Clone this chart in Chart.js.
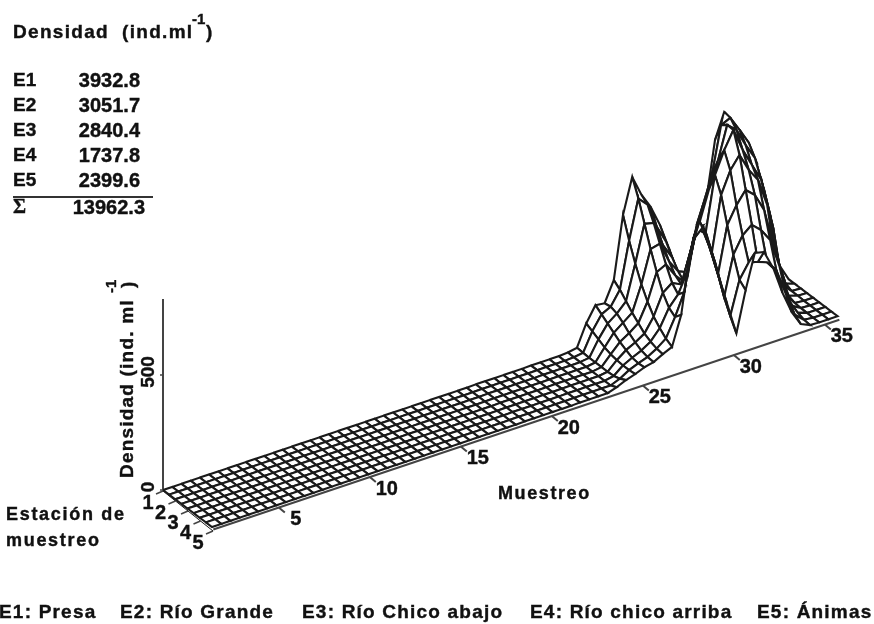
<!DOCTYPE html>
<html lang="es">
<head>
<meta charset="utf-8">
<style>
  html, body { margin: 0; background: #fff; }
  canvas { display: block; filter: blur(0.5px); }
</style>
<script src="https://cdn.jsdelivr.net/npm/chart.js@4/dist/chart.umd.min.js"></script>
</head>
<body>
<canvas id="superficie" width="874" height="624"></canvas>
<script>
const MUESTREOS = [
  1, 1.5, 2, 2.5, 3, 3.5, 4, 4.5, 5, 5.5, 6, 6.5, 7, 7.5, 8, 8.5, 9, 9.5, 10, 10.5, 11, 11.5, 12,
  12.5, 13, 13.5, 14, 14.5, 15, 15.5, 16, 16.5, 17, 17.5, 18, 18.5, 19, 19.5, 20, 20.5, 21, 21.5,
  22, 22.5, 23, 23.5, 24, 24.5, 25, 25.5, 26, 26.5, 27, 27.5, 28, 28.5, 29, 29.5, 30, 30.5, 31,
  31.5, 32, 32.5, 33, 33.5, 34, 34.5, 35,
];
const ESTACIONES = [1, 1.5, 2, 2.5, 3, 3.5, 4, 4.5, 5];

// muestreos 1 a 22.5: la superficie casi no se despega del plano
const TRAMO_PLANO = [
  0, 0, 0, 0, 0, 0, 0, 0, 0, 0, 0, 0, 0, 0, 0, 0, 0, 0, 0, 0, 0, 0,
  0, 0, 0, 0, 0, 0, 0, 0, 0, 0, 0, 0, 1, 1, 1, 1, 1, 1, 2, 2, 2, 2,
];
const DENSIDAD_E10 = [...TRAMO_PLANO, 5, 12, 104, 170, 165, 252, 522, 674, 583, 517, 426, 309, 187, 157, 370, 452, 713, 822, 739, 687, 595, 480, 275, 74, 0];
const DENSIDAD_E15 = [...TRAMO_PLANO, 4, 10, 90, 150, 170, 230, 430, 600, 560, 450, 373, 235, 165, 346, 474, 594, 798, 816, 750, 681, 541, 383, 152, 15, 0];
const DENSIDAD_E20 = [...TRAMO_PLANO, 3, 8, 75, 130, 160, 200, 350, 510, 500, 390, 324, 191, 322, 436, 563, 678, 819, 783, 704, 635, 483, 303, 42, 2, 0];
const DENSIDAD_E25 = [...TRAMO_PLANO, 2, 8, 60, 110, 140, 170, 280, 420, 430, 340, 283, 266, 441, 413, 648, 742, 817, 717, 639, 561, 393, 139, 15, 2, 0];
const DENSIDAD_E30 = [...TRAMO_PLANO, 2, 8, 50, 90, 115, 145, 225, 340, 360, 300, 255, 435, 474, 346, 581, 674, 728, 650, 593, 472, 261, 52, 4, 0, 0];
const DENSIDAD_E35 = [...TRAMO_PLANO, 2, 8, 45, 75, 95, 120, 180, 270, 300, 280, 410, 524, 411, 270, 470, 543, 596, 561, 483, 317, 143, 25, 2, 0, 0];
const DENSIDAD_E40 = [...TRAMO_PLANO, 2, 10, 42, 62, 80, 105, 150, 225, 270, 355, 530, 493, 357, 191, 361, 432, 465, 429, 372, 246, 84, 15, 1, 0, 0];
const DENSIDAD_E45 = [...TRAMO_PLANO, 2, 18, 42, 58, 72, 95, 125, 205, 300, 516, 555, 426, 278, 129, 272, 335, 324, 309, 261, 148, 40, 5, 0, 0, 0];
const DENSIDAD_E50 = [...TRAMO_PLANO, 15, 32, 45, 61, 70, 91, 109, 235, 496, 617, 500, 359, 215, 74, 248, 396, 387, 304, 183, 86, 20, 2, 0, 0, 0];
const DENSIDADES = [
  DENSIDAD_E10, DENSIDAD_E15, DENSIDAD_E20, DENSIDAD_E25, DENSIDAD_E30,
  DENSIDAD_E35, DENSIDAD_E40, DENSIDAD_E45, DENSIDAD_E50,
];

const TICKS_MUESTREO = [5, 10, 15, 20, 25, 30, 35];
const TICKS_ESTACION = [1, 2, 3, 4, 5];
const TICKS_DENSIDAD = [0, 500];
const EJE_DENSIDAD_MAX = 830;

const TABLA_ESTACIONES = ['E1', 'E2', 'E3', 'E4', 'E5'];
const TABLA_DENSIDADES = ['3932.8', '3051.7', '2840.4', '1737.8', '2399.6'];
const TABLA_TOTAL = '13962.3';
const LEYENDA = ['E1: Presa', 'E2: Río Grande', 'E3: Río Chico abajo', 'E4: Río chico arriba', 'E5: Ánimas'];
const LEYENDA_X = [-1, 120, 302, 530, 757];

const COLOR_MALLA = '#1a1a1a';
const COLOR_EJE = '#444';
const COLOR_TEXTO = '#111';

// proyeccion oblicua de la superficie: muestreo, estacion y densidad a la hoja
const proyecta = (muestreo, estacion, densidad) => ({
  x: 163 + 18.4 * (muestreo - 1) + 12.25 * (estacion - 1),
  y: 490 - 6.2 * (muestreo - 1) + 9.25 * (estacion - 1) - 0.23 * densidad,
});

// el eje de muestreo va un poco por delante de la malla
const proyectaEjeMuestreo = (muestreo) => ({
  x: 206 + 18.2 * (muestreo - 1),
  y: 532 - 6.1 * (muestreo - 1),
});
const proyectaEjeEstacion = (estacion) => ({
  x: 163 + 12.5 * (estacion - 1),
  y: 491 + 10 * (estacion - 1),
});

const celdasDeMalla = () => {
  const celdas = [];
  // de atras hacia adelante: lo que se pinta despues tapa lo anterior
  for (let e = 0; e < ESTACIONES.length - 1; e += 1) {
    for (let m = MUESTREOS.length - 2; m >= 0; m -= 1) {
      const esquina = (im, ie) => proyecta(MUESTREOS[im], ESTACIONES[ie], DENSIDADES[ie][im]);
      celdas.push({
        data: [esquina(m, e), esquina(m + 1, e), esquina(m + 1, e + 1), esquina(m, e + 1), esquina(m, e)],
        showLine: true,
        fill: 'shape',
        backgroundColor: '#fff',
        borderColor: COLOR_MALLA,
        borderWidth: 2.1,
        pointRadius: 0,
      });
    }
  }
  return celdas;
};

const segmento = (puntos, borderWidth = 1, borderColor = COLOR_EJE) => ({
  data: puntos,
  showLine: true,
  fill: false,
  borderColor,
  borderWidth,
  pointRadius: 0,
});

const ejes = () => {
  const inicioDensidad = proyecta(1, 1, 0);
  const lineas = [
    segmento([inicioDensidad, proyecta(1, 1, EJE_DENSIDAD_MAX)], 2),
    segmento([proyectaEjeMuestreo(1.4), proyectaEjeMuestreo(35.8)], 2),
    segmento([proyectaEjeEstacion(1), proyectaEjeEstacion(5)], 1, COLOR_MALLA),
  ];
  TICKS_MUESTREO.forEach((m) => {
    const { x, y } = proyectaEjeMuestreo(m);
    lineas.push(segmento([{ x, y }, { x: x + 6, y: y + 5 }], 2));
  });
  TICKS_ESTACION.forEach((e) => {
    const { x, y } = proyectaEjeEstacion(e);
    lineas.push(segmento([{ x, y }, { x: x - 7, y: y + 3 }], 1.5));
  });
  TICKS_DENSIDAD.forEach((d) => {
    const { x, y } = proyecta(1, 1, d);
    lineas.push(segmento([{ x, y }, { x: x - 3, y }], 1.5));
  });
  return lineas;
};

const escribe = (ctx, texto, x, y, { tam = 19, espacio = 0, alinea = 'left', giro = 0, fuente = 'Liberation Sans' } = {}) => {
  ctx.save();
  ctx.translate(x, y);
  ctx.rotate(giro);
  ctx.font = `bold ${tam}px "${fuente}"`;
  ctx.letterSpacing = `${espacio}px`;
  ctx.textAlign = alinea;
  ctx.textBaseline = 'middle';
  ctx.fillStyle = COLOR_TEXTO;
  ctx.strokeStyle = COLOR_TEXTO;
  ctx.lineWidth = 0.4;
  ctx.fillText(texto, 0, 0);
  ctx.strokeText(texto, 0, 0);
  ctx.restore();
};

const rotulos = {
  id: 'rotulos',
  afterDraw: ({ ctx }) => {
    const vertical = -Math.PI / 2;

    escribe(ctx, 'Densidad  (ind.ml', 13, 33, { tam: 19, espacio: 1.3 });
    escribe(ctx, '-1', 192, 20, { tam: 15 });
    escribe(ctx, ')', 206, 33, { tam: 19 });

    TABLA_ESTACIONES.forEach((estacion, i) => {
      escribe(ctx, estacion, 13, 81 + 25 * i, { tam: 19 });
      escribe(ctx, TABLA_DENSIDADES[i], 140, 81 + 25 * i, { tam: 20, alinea: 'right' });
    });
    ctx.fillStyle = '#333';
    ctx.fillRect(13, 196, 140, 2);
    escribe(ctx, 'Σ', 13, 208, { tam: 20, fuente: 'Liberation Serif' });
    escribe(ctx, TABLA_TOTAL, 145, 208, { tam: 20, alinea: 'right' });

    escribe(ctx, 'Densidad (ind. ml', 128, 478, { tam: 19, giro: vertical, espacio: 1.2 });
    escribe(ctx, '-1', 112, 293, { tam: 15, giro: vertical });
    escribe(ctx, ')', 129, 288, { tam: 19, giro: vertical });

    TICKS_DENSIDAD.forEach((d) => {
      const { x, y } = proyecta(1, 1, d);
      escribe(ctx, String(d), x - 14, y - 3, { tam: 19, giro: vertical, alinea: 'center' });
    });
    TICKS_MUESTREO.forEach((m) => {
      const { x, y } = proyectaEjeMuestreo(m);
      escribe(ctx, String(m), x + 17, y + 12, { tam: 20, alinea: 'center' });
    });
    TICKS_ESTACION.forEach((e) => {
      const { x, y } = proyectaEjeEstacion(e);
      escribe(ctx, String(e), x - 15, y + 12, { tam: 20, alinea: 'center' });
    });

    escribe(ctx, 'Muestreo', 498, 494, { tam: 18, espacio: 1.6 });
    escribe(ctx, 'Estación de', 6, 515, { tam: 18, espacio: 1.7 });
    escribe(ctx, 'muestreo', 6, 541, { tam: 18, espacio: 1.7 });

    LEYENDA.forEach((texto, i) => {
      escribe(ctx, texto, LEYENDA_X[i], 613, { tam: 19, espacio: 1.2 });
    });
  },
};

/* eslint-disable no-new */
new Chart(document.getElementById('superficie'), {
  type: 'scatter',
  plugins: [rotulos],
  data: {
    // Chart.js pinta primero el ultimo dataset
    datasets: [...celdasDeMalla().reverse(), ...ejes()],
  },
  options: {
    responsive: false,
    animation: false,
    events: [],
    layout: { padding: 0 },
    elements: { line: { tension: 0 } },
    plugins: { legend: { display: false }, tooltip: { enabled: false } },
    scales: {
      x: { type: 'linear', min: 0, max: 874, display: false },
      y: { type: 'linear', min: 0, max: 624, reverse: true, display: false },
    },
  },
});
/* eslint-enable no-new */
</script>
</body>
</html>
